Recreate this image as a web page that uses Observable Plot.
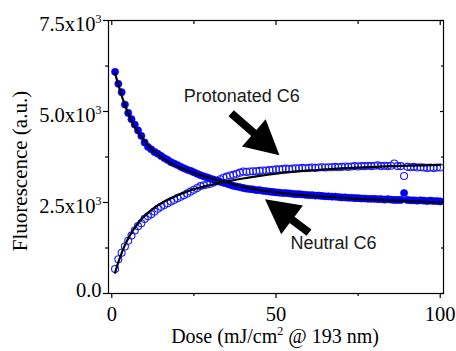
<!DOCTYPE html>
<html><head><meta charset="utf-8">
<script src="https://cdn.jsdelivr.net/npm/d3@7"></script>
<script src="https://cdn.jsdelivr.net/npm/@observablehq/plot@0.6"></script>
<style>body{margin:0;background:#fff}</style>
</head><body><div id="chart"></div>
<script>
const dose = [1,2,3,4,5,6,7,8,9,10,11,12,13,14,15,16,17,18,19,20,21,22,23,24,25,26,27,28,29,30,31,32,33,34,35,36,37,38,39,40,41,42,43,44,45,46,47,48,49,50,51,52,53,54,55,56,57,58,59,60,61,62,63,64,65,66,67,68,69,70,71,72,73,74,75,76,77,78,79,80,81,82,83,84,85,86,87,88,89,90,91,92,93,94,95,96,97,98,99,100];
const neutral = [6090,5760,5530,5190,4960,4790,4640,4480,4330,4150,
  4030,3960,3890,3840,3780,3720,3670,3610,3570,3530,
  3480,3440,3400,3370,3330,3290,3250,3220,3190,3160,
  3130,3100,3070,3040,3020,2990,2960,2940,2920,2900,
  2880,2870,2860,2840,2840,2820,2810,2800,2790,2780,
  2770,2760,2760,2750,2740,2730,2730,2720,2710,2700,
  2700,2690,2690,2680,2670,2670,2660,2660,2650,2640,
  2640,2630,2630,2620,2620,2610,2610,2600,2600,2600,
  2590,2590,2580,2590,2580,2570,2570,2570,2760,2570,
  2560,2560,2550,2560,2550,2540,2550,2540,2540,2530];
const protonated = [674,940,1120,1290,1450,1590,1730,1850,1930,2050,
  2120,2180,2250,2330,2380,2430,2480,2530,2570,2620,
  2660,2700,2750,2800,2850,2900,2950,2975,2995,3015,
  3050,3090,3140,3180,3210,3240,3260,3290,3320,3350,
  3340,3350,3360,3360,3370,3380,3380,3390,3400,3410,
  3410,3420,3430,3420,3430,3440,3440,3450,3440,3450,
  3460,3450,3460,3470,3460,3470,3470,3480,3470,3480,
  3490,3480,3490,3500,3490,3500,3500,3510,3500,3510,
  3520,3500,3510,3500,3510,3570,3500,3500,3230,3480,
  3470,3480,3460,3470,3460,3450,3460,3450,3460,3460];
const fitDose = [1,2,3,4,5,6,7,8,9,10,12,14,16,18,20,23,26,30,35,40,45,50,55,60,65,70,75,80,85,90,95,100];
const neutralFit = [6060,5730,5440,5180,4950,4750,4580,4430,4300,4180,3980,3820,3690,3580,3490,3380,3280,3170,3050,2930,2840,2780,2730,2690,2660,2630,2600,2580,2560,2540,2520,2500];
const protonatedFit = [570,860,1110,1330,1510,1670,1810,1930,2040,2130,2290,2420,2530,2620,2700,2800,2890,2980,3080,3160,3230,3290,3340,3380,3410,3440,3460,3480,3500,3510,3520,3530];
const xTicks = [0,50,100];
const xTickLabels = ["0","50","100"];
const xMinor = [25,75];
const yTicks = [0,2500,5000,7500];
const yTickLabels = ["0.0","2.5x10^3","5.0x10^3","7.5x10^3"];
const yMinor = [1250,3750,6250];
const labelTexts = ["Protonated C6","Neutral C6"];
const labelX = [21.9,54.4];
const labelY = [5430,1384];
const arrowTail = [[36.5,4940],[60.2,1657]];
const arrowTip = [[51.2,3784],[46.8,2573]];
const xTitle = "Dose (mJ/cm^2 @ 193 nm)";
const yTitle = "Fluorescence (a.u.)";

const neutralData = dose.map((d,i)=>({x:d,y:neutral[i]}));
const protData = dose.map((d,i)=>({x:d,y:protonated[i]}));
const nFit = fitDose.map((d,i)=>({x:d,y:neutralFit[i]}));
const pFit = fitDose.map((d,i)=>({x:d,y:protonatedFit[i]}));
const labels = labelTexts.map((t,i)=>({text:t,x:labelX[i],y:labelY[i]}));

function arrowsMark(index, scales) {
  const g = d3.create("svg:g").attr("aria-label","arrows");
  arrowTail.forEach((t,i)=>{
    const x1 = scales.x(t[0]), y1 = scales.y(t[1]);
    const x2 = scales.x(arrowTip[i][0]), y2 = scales.y(arrowTip[i][1]);
    const dx = x2-x1, dy = y2-y1, L = Math.hypot(dx,dy), ux = dx/L, uy = dy/L, px = -uy, py = ux;
    const hl = 34, hw = 18, sw = 4;
    const bx = x2-ux*hl, by = y2-uy*hl;
    const pts = [[x1+px*sw,y1+py*sw],[bx+px*sw,by+py*sw],[bx+px*hw,by+py*hw],[x2,y2],[bx-px*hw,by-py*hw],[bx-px*sw,by-py*sw],[x1-px*sw,y1-py*sw]];
    g.append("path").attr("d","M"+pts.map(p=>p.join(",")).join("L")+"Z").attr("fill","#000");
  });
  return g.node();
}

const tickFmt = d => yTickLabels[yTicks.indexOf(d)];
const xFmt = d => xTickLabels[xTicks.indexOf(d)];
const blank = () => "";

const chart = Plot.plot({
  width: 456, height: 351,
  marginLeft: 108, marginRight: 13, marginTop: 20, marginBottom: 58,
  style: {fontFamily: "'Liberation Serif','Times New Roman',serif", fontSize: "20px", background: "#fff", color: "#000"},
  x: {domain: [-1, 101]},
  y: {domain: [0, 7500]},
  marks: [
    Plot.dot(protData, {x:"x", y:"y", r:3.5, stroke:"#1a1aff", strokeWidth:1.1, fill:"none"}),
    Plot.dot(neutralData, {x:"x", y:"y", r:3.6, fill:"#0000ff", stroke:"#0000e0", strokeWidth:0.6}),
    Plot.line(nFit, {x:"x", y:"y", stroke:"#000", strokeWidth:2.2, curve:"monotone-x"}),
    Plot.line(pFit, {x:"x", y:"y", stroke:"#000", strokeWidth:2.2, curve:"monotone-x"}),
    Plot.text(labels, {x:"x", y:"y", text:"text", textAnchor:"start", fontFamily:"'Liberation Sans',Arial,sans-serif", fontSize:18, fill:"#1a1a1a"}),
    arrowsMark,
    Plot.frame({stroke:"#000", strokeWidth:1.2}),
    Plot.axisY({anchor:"left", ticks:yTicks, tickSize:5, tickPadding:2, tickFormat:tickFmt, label:null, fontSize:20.5, strokeWidth:1.2}),
    Plot.axisY({anchor:"left", ticks:yMinor, tickSize:3, tickFormat:blank, label:null, strokeWidth:1.2}),
    Plot.axisY({anchor:"right", ticks:yTicks, tickSize:-4, tickFormat:blank, label:null, strokeWidth:1.2}),
    Plot.axisY({anchor:"right", ticks:yMinor, tickSize:-3, tickFormat:blank, label:null, strokeWidth:1.2}),
    Plot.axisX({anchor:"bottom", ticks:xTicks, tickSize:5, tickPadding:8, tickFormat:xFmt, label:null, fontSize:20.5, strokeWidth:1.2}),
    Plot.axisX({anchor:"bottom", ticks:xMinor, tickSize:3, tickFormat:blank, label:null, strokeWidth:1.2}),
    Plot.axisX({anchor:"top", ticks:xTicks, tickSize:-4, tickFormat:blank, label:null, strokeWidth:1.2}),
    Plot.axisX({anchor:"top", ticks:xMinor, tickSize:-3, tickFormat:blank, label:null, strokeWidth:1.2})
  ]
});
document.getElementById("chart").append(chart);

const svg = d3.select(chart.tagName.toLowerCase()==="svg" ? chart : chart.querySelector("svg"));
function supText(sel, txt, supSize, raise) {
  const [a, rest] = txt.split("^");
  sel.text(null);
  sel.append("tspan").text(a);
  const sup = rest.charAt(0), after = rest.slice(1);
  sel.append("tspan").attr("dy", -raise).attr("font-size", supSize).text(sup);
  if (after) sel.append("tspan").attr("dy", raise).text(after);
}
svg.selectAll("text").each(function(){
  const t = this.textContent;
  const s = d3.select(this);
  if (yTickLabels.includes(t) && t !== "") {
    if (t.includes("^")) {
      supText(s, t, "12px", 8);
      s.attr("transform", (s.attr("transform")||"") + " translate(0,4)");
    } else {
      s.attr("transform", (s.attr("transform")||"") + " translate(0,-3)");
    }
  }
});
const xt = svg.append("text").attr("x", 275).attr("y", 343).attr("text-anchor","middle")
  .attr("font-size","20px").attr("font-family","'Liberation Serif','Times New Roman',serif").attr("fill","#000");
supText(xt, xTitle, "12px", 8);
svg.append("text").attr("transform","translate(27,171) rotate(-90)").attr("text-anchor","middle")
  .attr("font-size","21px").attr("font-family","'Liberation Serif','Times New Roman',serif").attr("fill","#000").text(yTitle);
</script>
</body></html>
